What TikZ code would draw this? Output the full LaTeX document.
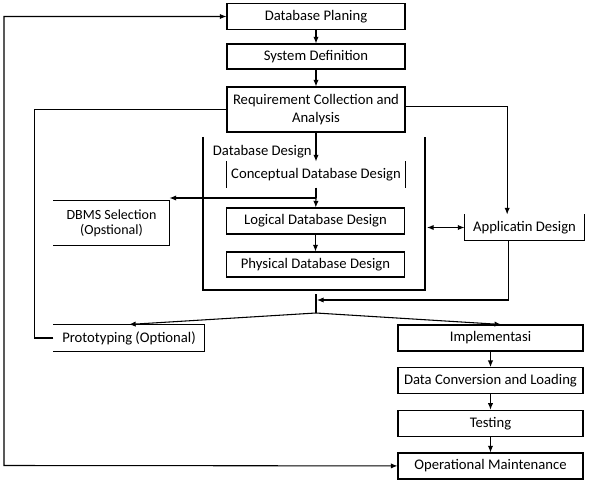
\documentclass[tikz,border=0pt]{standalone}
\usepackage{fontspec}
\setmainfont{Carlito}
\usetikzlibrary{arrows.meta,positioning}

\begin{document}
\begin{tikzpicture}[x=0.75pt, y=-0.75pt, node distance=32pt, line width=0.8pt,
                    >={Latex[length=5pt,width=4pt]}, font=\fontsize{11}{14}\selectfont,
                    phase node/.style={draw,minimum width=133.5pt,minimum height=19.5pt,inner sep=1pt},
                    open node/.style={phase node,draw=none}]
  \useasboundingbox (0,0) rectangle (590,485);

  \node[phase node] (1) at (316,16.5) {Database Planing};
  \node[phase node, minimum height=18.75pt] (2) at (316,56.5) {System Definition};
  \node[phase node, minimum height=33.75pt, align=center] (3) at (316,109.5) {Requirement Collection and\\Analysis};
  \node[open node, minimum height=18.75pt] (4) at (316,174.5) {Conceptual Database Design};
  \node[phase node] (5) at (315.5,221) {Logical Database Design};
  \node[phase node, minimum height=18.75pt] (6) at (315.5,264.5) {Physical Database Design};
  \node[open node, minimum width=86.25pt, minimum height=33pt, align=center,
        font=\fontsize{10.5}{11.5}\selectfont] (7) at (111.5,223) {DBMS Selection\\(Opstional)};
  \node[open node, minimum width=89.25pt, minimum height=18.75pt] (8) at (524.5,227.5) {Applicatin Design};
  \node[open node, minimum width=112.5pt] (9) at (129,338) {Prototyping (Optional)};
  \node[phase node, minimum width=138.75pt] (10) at (490.5,338) {Implementasi};
  \node[phase node, minimum width=138.75pt] (11) [below of=10] {Data Conversion and Loading};
  \node[phase node, minimum width=138.75pt] (12) [below of=11] {Testing};
  \node[phase node, minimum width=138.75pt] (13) [below of=12] {Operational Maintenance};
  \node[anchor=west, inner sep=1pt] (14) at (211,152) {Database Design};

  % frame and open boxes
  \draw (203,137) -- (203,290) -- (425,290) -- (425,137);
  \draw (4.north west) -- (4.south west) (4.north east) -- (4.south east);
  \draw (7.north west) -- (7.north east) -- (7.south east) -- (7.south west);
  \draw (8.north west) -- (8.south west) -- (8.south east) -- (8.north east);
  \draw (9.north west) -- (9.north east) -- (9.south east) -- (9.south west);

  \coordinate (s) at (316,198);
  \coordinate (m) at (427,227.5);
  \coordinate (j) at (317,300);
  \coordinate (f1) at (316,294);
  \coordinate (f2) at (316,313);
  \coordinate (r) at (4,465.5);

  \path[->]
    (1) edge (2)
    (2) edge (3)
    (3) edge (4)
    (5) edge (6)
    (10) edge (11)
    (11) edge (12)
    (12) edge (13);

  \draw (4) -- (s);
  \draw[->] (s) -- (s -| 7.east);
  \draw[->] (s) -- (5);
  \draw[->] ([yshift=2.5pt]3.east) -| ([xshift=-13pt]8.north);
  \draw[<->] (m) -- (8);
  \draw[->] ([xshift=-12pt]8.south) |- (j);
  \draw (f1) -- (f2);
  \draw[->] (f2) -- (9.north);
  \draw[->] (f2) -- ([xshift=8pt]10.north);
  \draw (9.west) -- ++(-14pt,0) |- (3.west);
  \draw[<->] (13) -- (r) |- (1);
\end{tikzpicture}
\end{document}
